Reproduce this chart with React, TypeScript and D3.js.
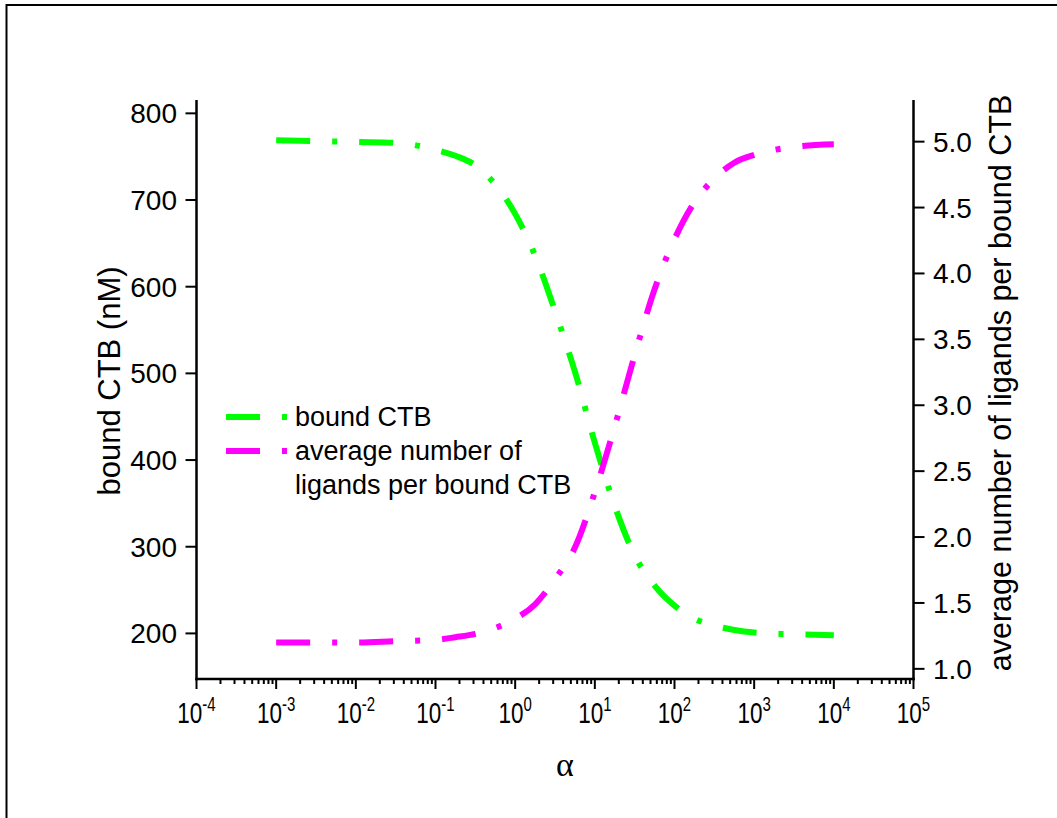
import React from "react";
import * as d3 from "d3";

// log10(alpha) sample points
const ALPHA_EXP = [-3, -2.5, -2, -1.5, -1, -0.75, -0.5, -0.25, 0, 0.25, 0.5, 0.75, 1, 1.25, 1.5, 1.75, 2, 2.25, 2.5, 2.75, 3, 3.5, 4];
// bound CTB (nM), left axis
const BOUND_CTB = [769, 768, 767, 766, 758, 751, 740, 718, 684, 636, 572, 502, 420, 347, 290, 255, 232, 217, 209, 204, 201, 199, 198];
// average number of ligands per bound CTB, right axis
const AVG_LIGANDS = [1.2, 1.2, 1.2, 1.21, 1.22, 1.24, 1.265, 1.31, 1.38, 1.49, 1.68, 1.92, 2.34, 2.84, 3.38, 3.88, 4.26, 4.54, 4.72, 4.84, 4.9, 4.96, 4.98];

const X_TICK_EXP = [-4, -3, -2, -1, 0, 1, 2, 3, 4, 5];
const LEFT_TICKS = [200, 300, 400, 500, 600, 700, 800];
const RIGHT_TICKS = [1.0, 1.5, 2.0, 2.5, 3.0, 3.5, 4.0, 4.5, 5.0];

const LEGEND = [
  { label: ["bound CTB"], color: "#00ff00" },
  { label: ["average number of", "ligands per bound CTB"], color: "#ff00ff" },
];

const GREEN = "#00ff00";
const MAGENTA = "#ff00ff";
const FONT = "Liberation Sans, Arial, sans-serif";
const DASH = "34 22 5 22";

export default function App() {
  const left = 196.5, right = 913.5, top = 100, bottom = 679;
  const x = d3.scaleLog().domain([1e-4, 1e5]).range([left, right]);
  const yL = d3.scaleLinear().domain([147.4, 815.4]).range([bottom, top]);
  const yR = d3.scaleLinear().domain([0.923, 5.316]).range([bottom, top]);

  const pts = ALPHA_EXP.map((e, i) => ({ a: Math.pow(10, e), g: BOUND_CTB[i], m: AVG_LIGANDS[i] }));
  const lineG = d3.line<any>().x(d => x(d.a)).y(d => yL(d.g)).curve(d3.curveMonotoneX);
  const lineM = d3.line<any>().x(d => x(d.a)).y(d => yR(d.m)).curve(d3.curveMonotoneX);

  const minor: number[] = [];
  for (let k = -4; k < 5; k++) for (let j = 2; j <= 9; j++) minor.push(j * Math.pow(10, k));

  const legendX = 226;
  const legendY = [417, 451];

  return (
    <svg width={1057} height={818} style={{ position: "absolute", left: 0, top: 0, background: "#fff" }}>
      <rect x={6.5} y={5} width={1100} height={900} fill="white" stroke="black" strokeWidth={2} />

      {/* curves */}
      <path d={lineG(pts) || ""} fill="none" stroke={GREEN} strokeWidth={6} strokeDasharray={DASH} />
      <path d={lineM(pts) || ""} fill="none" stroke={MAGENTA} strokeWidth={6} strokeDasharray={DASH} />

      {/* axes lines */}
      <g stroke="black" strokeWidth={2.5} fill="none">
        <line x1={left} y1={top} x2={left} y2={bottom + 1.25} />
        <line x1={right} y1={top} x2={right} y2={bottom + 1.25} />
        <line x1={left - 1.25} y1={bottom} x2={right + 1.25} y2={bottom} />
      </g>

      {/* x ticks */}
      <g stroke="black" strokeWidth={2}>
        {X_TICK_EXP.map(e => (
          <line key={"M" + e} x1={x(Math.pow(10, e))} x2={x(Math.pow(10, e))} y1={bottom} y2={bottom + 10} />
        ))}
        {minor.map((v, i) => (
          <line key={"m" + i} x1={x(v)} x2={x(v)} y1={bottom} y2={bottom + 5} />
        ))}
      </g>
      {X_TICK_EXP.map(e => (
        <text key={"xl" + e} transform={`translate(${x(Math.pow(10, e))},723) scale(0.75,1)`} textAnchor="middle" fontFamily={FONT} fontSize={30} fill="black">
          10<tspan fontSize={20} dy={-12}>{e}</tspan>
        </text>
      ))}

      {/* left ticks */}
      {LEFT_TICKS.map(v => (
        <g key={"l" + v}>
          <line x1={left - 11} x2={left} y1={yL(v)} y2={yL(v)} stroke="black" strokeWidth={2} />
          <text x={177} y={yL(v) + 10} textAnchor="end" fontFamily={FONT} fontSize={28} fill="black">{v}</text>
        </g>
      ))}

      {/* right ticks */}
      {RIGHT_TICKS.map(v => (
        <g key={"r" + v}>
          <line x1={right} x2={right + 11} y1={yR(v)} y2={yR(v)} stroke="black" strokeWidth={2} />
          <text x={933} y={yR(v) + 10} textAnchor="start" fontFamily={FONT} fontSize={28} fill="black">{v.toFixed(1)}</text>
        </g>
      ))}

      {/* titles */}
      <text transform="translate(120,381) rotate(-90)" textAnchor="middle" fontFamily={FONT} fontSize={31} fill="black">bound CTB (nM)</text>
      <text transform="translate(1011,383) rotate(-90)" textAnchor="middle" fontFamily={FONT} fontSize={30.5} fill="black">average number of ligands per bound CTB</text>
      <text x={565} y={776} textAnchor="middle" fontFamily="Liberation Serif, Times New Roman, serif" fontSize={34} fill="black">α</text>

      {/* legend */}
      {LEGEND.map((l, i) => (
        <g key={"lg" + i}>
          <line x1={legendX} x2={legendX + 61} y1={legendY[i]} y2={legendY[i]} stroke={l.color} strokeWidth={6} strokeDasharray={DASH} />
          {l.label.map((t, j) => (
            <text key={j} x={295} y={legendY[i] + 9 + j * 34} fontFamily={FONT} fontSize={27} fill="black">{t}</text>
          ))}
        </g>
      ))}
    </svg>
  );
}
